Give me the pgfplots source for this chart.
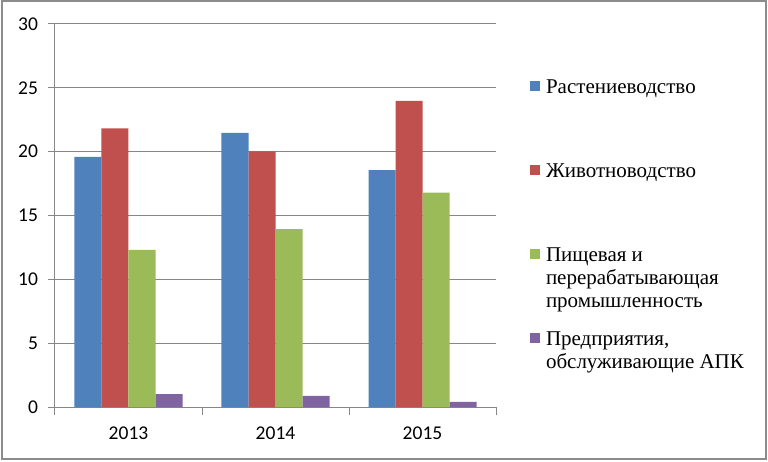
\documentclass[border=0pt]{standalone}
\usepackage{fontspec}
\setmainfont{Liberation Serif}
\newfontfamily\carlito{Carlito}
\newfontfamily\lserif{Liberation Serif}
\usepackage{array}
\usepackage{pgfplots}
\pgfplotsset{compat=1.18}
\definecolor{c1}{HTML}{4F81BD}
\definecolor{c2}{HTML}{C0504D}
\definecolor{c3}{HTML}{9BBB59}
\definecolor{c4}{HTML}{8064A2}
\definecolor{gridc}{HTML}{868686}
\definecolor{framec}{HTML}{8C8C8C}
\newcommand\legtxt[1]{\renewcommand\arraystretch{1}\begin{tabular}[t]{@{}l@{}}#1\end{tabular}}
\pgfplotsset{sqleg/.style={legend image code/.code={\fill[##1,draw=none] (0pt,2.5pt) rectangle (10pt,12.5pt);}}}
\begin{document}
\begin{tikzpicture}
\begin{axis}[
 at={(55pt,54pt)}, anchor=south west,
 scale only axis, width=441pt, height=383pt,
 xmin=-0.5, xmax=2.5, ymin=0, ymax=30,
 ybar=0pt, bar width=27pt,
 xtick={0,1,2}, xticklabels={2013,2014,2015},
 minor xtick={-0.5,0.5,1.5,2.5},
 ytick={0,5,...,30},
 axis x line*=bottom, axis y line*=left,
 axis line style={gridc, line width=1pt, -},
 ymajorgrids, major grid style={gridc, line width=1pt},
 tick align=outside, major tick length=7pt, minor tick length=8pt,
 major x tick style={draw=none},
 minor x tick style={gridc, line width=1pt},
 major y tick style={gridc, line width=1pt},
 ticklabel style={font=\carlito\fontsize{19.5}{20}\selectfont},
 /pgf/number format/assume math mode=true,
 yticklabel style={xshift=-6.5pt},
 xticklabel style={yshift=-9pt},
 legend style={draw=none, fill=none, at={(1.0771,0.860)}, anchor=north west,
   inner sep=0pt, outer sep=0pt, row sep=0pt, column sep=6pt,
   font=\lserif\fontsize{21}{22.7}\selectfont,
   cells={anchor=base west},
   nodes={inner sep=0pt, outer sep=0pt, text height=16pt, text depth=68pt}},
 every axis plot post/.append style={sqleg},
]
\addplot[fill=c1, draw=none] coordinates {(0,19.6) (1,21.48) (2,18.55)};
\addlegendentry{Растениеводство}
\addplot[fill=c2, draw=none] coordinates {(0,21.82) (1,20.02) (2,23.98)};
\addlegendentry{Животноводство}
\addplot[fill=c3, draw=none] coordinates {(0,12.3) (1,13.93) (2,16.8)};
\addlegendentry{\legtxt{Пищевая и\\перерабатывающая\\промышленность}}
\addplot[fill=c4, draw=none] coordinates {(0,1.0) (1,0.87) (2,0.4)};
\addlegendentry{\legtxt{Предприятия,\\обслуживающие АПК}}
\end{axis}
\draw[framec, line width=1.5pt] (2pt,2pt) rectangle (766pt,460pt);
\pgfresetboundingbox
\path (0,0) rectangle (768pt,461pt);
\end{tikzpicture}
\end{document}
